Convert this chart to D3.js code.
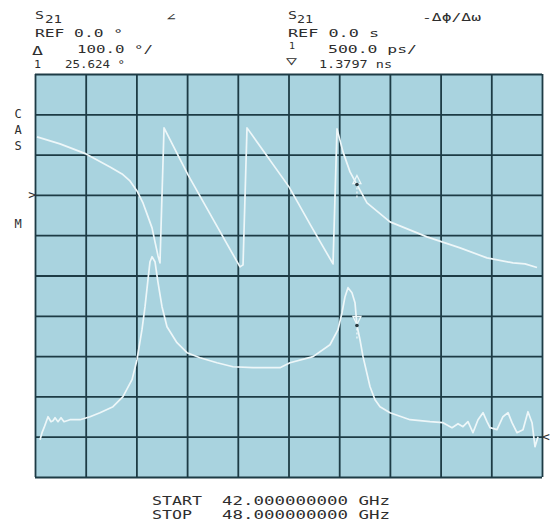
<!DOCTYPE html>
<html>
<head>
<meta charset="utf-8">
<script src="https://cdn.jsdelivr.net/npm/d3@7/dist/d3.min.js"></script>
<style>
  html, body { margin: 0; padding: 0; background: #ffffff; }
  svg { display: block; }
  .lbl { font-family: "DejaVu Sans Mono", "Liberation Mono", monospace; fill: #2e2e2e; }
</style>
</head>
<body>
<svg id="chart" width="550" height="523"></svg>
<script>
// Sweep settings (GHz)
const freqStart = 42.0;
const freqStop = 48.0;

// Channel 1: S21 phase, 100 deg/div, reference 0 deg
const phaseFreq = [42.024, 42.296, 42.604, 42.888, 43.030, 43.124, 43.207, 43.278, 43.325, 43.385,
  43.420, 43.456, 43.479, 43.527, 43.811, 44.118, 44.426, 44.462, 44.509, 45.006,
  45.266, 45.527, 45.574, 45.645, 45.728, 45.810, 45.929, 46.201, 46.639, 47.030,
  47.349, 47.657, 47.799, 47.941];
const phaseDeg = [143.9, 126.6, 101.7, 69.5, 52.1, 34.7, 9.9, -19.9, -47.1, -81.9,
  -116.6, -151.4, -168.7, 166.3, 49.6, -64.5, -178.7, -173.7, 166.3, 19.9,
  -76.9, -171.2, 163.8, 106.7, 57.1, 25.624, -19.9, -67.0, -104.2, -131.5,
  -156.3, -168.7, -171.0, -180.0];

// Channel 2: S21 group delay, 500 ps/div, reference 0 s
const delayFreq = [42.059, 42.083, 42.107, 42.154, 42.189, 42.213, 42.237, 42.272, 42.308, 42.343,
  42.414, 42.533, 42.651, 42.769, 42.923, 43.041, 43.148, 43.207, 43.266, 43.302,
  43.337, 43.361, 43.385, 43.420, 43.456, 43.503, 43.562, 43.680, 43.799, 43.953,
  44.154, 44.343, 44.580, 44.899, 45.018, 45.290, 45.491, 45.586, 45.633, 45.669,
  45.704, 45.751, 45.787, 45.810, 45.846, 45.882, 45.965, 46.024, 46.083, 46.201,
  46.438, 46.675, 46.828, 46.935, 47.006, 47.065, 47.124, 47.183, 47.243, 47.302,
  47.349, 47.385, 47.467, 47.538, 47.598, 47.645, 47.704, 47.775, 47.834, 47.882,
  47.917, 47.953];
const delayNs = [-0.037, 0.05, 0.112, 0.248, 0.186, 0.199, 0.236, 0.186, 0.236, 0.186,
  0.211, 0.211, 0.248, 0.298, 0.372, 0.496, 0.707, 0.955, 1.328, 1.613,
  1.948, 2.171, 2.233, 2.171, 1.911, 1.613, 1.365, 1.166, 1.042, 0.980,
  0.918, 0.868, 0.856, 0.856, 0.918, 0.993, 1.141, 1.328, 1.538, 1.737,
  1.849, 1.787, 1.663, 1.3797, 1.203, 0.993, 0.620, 0.459, 0.372, 0.298,
  0.211, 0.186, 0.174, 0.112, 0.161, 0.124, 0.186, 0.050, 0.211, 0.298,
  0.186, 0.112, 0.087, 0.248, 0.298, 0.174, 0.050, 0.087, 0.310, 0.174,
  -0.124, 0.000];

// Marker 1
const markerFreq = 45.810;
const markerPhase = 25.624;   // deg
const markerDelay = 1.3797;   // ns

// Screen scales: 10 x 10 graticule
const phaseTop = 300, phaseBottom = -700;  // 100 deg/div, ref at 3rd line
const delayTop = 4.5, delayBottom = -0.5;  // 0.5 ns/div, ref at 9th line

const svg = d3.select("#chart");
const L = 35, R = 542, T = 74, B = 477;

const x = d3.scaleLinear().domain([freqStart, freqStop]).range([L, R]);
const yP = d3.scaleLinear().domain([phaseTop, phaseBottom]).range([T, B]);
const yD = d3.scaleLinear().domain([delayTop, delayBottom]).range([T, B]);

// Screen background
svg.append("rect").attr("x", L).attr("y", T).attr("width", R - L).attr("height", B - T)
  .attr("fill", "#a9d3df");

const gridColor = "#1d3b45";
const xTicks = d3.range(0, 11).map(i => freqStart + i * (freqStop - freqStart) / 10);
const yTicks = d3.range(0, 11).map(i => phaseTop + i * (phaseBottom - phaseTop) / 10);

const gx = svg.append("g").attr("transform", `translate(0,${B})`)
  .call(d3.axisBottom(x).tickValues(xTicks).tickSize(-(B - T)).tickFormat(""));
const gy = svg.append("g").attr("transform", `translate(${L},0)`)
  .call(d3.axisLeft(yP).tickValues(yTicks).tickSize(-(R - L)).tickFormat(""));
[gx, gy].forEach(g => {
  g.select(".domain").remove();
  g.selectAll(".tick line").attr("stroke", gridColor).attr("stroke-width", 1.8);
});

// Traces
const traceColor = "#eef7f9";
const phaseData = phaseFreq.map((f, i) => [f, phaseDeg[i]]);
const delayData = delayFreq.map((f, i) => [f, delayNs[i]]);

svg.append("path").datum(phaseData)
  .attr("fill", "none").attr("stroke", traceColor).attr("stroke-width", 1.7)
  .attr("stroke-linejoin", "round")
  .attr("d", d3.line().x(d => x(d[0])).y(d => yP(d[1])));

svg.append("path").datum(delayData)
  .attr("fill", "none").attr("stroke", traceColor).attr("stroke-width", 1.7)
  .attr("stroke-linejoin", "round")
  .attr("d", d3.line().x(d => x(d[0])).y(d => yD(d[1])));

// Marker symbols on the traces
function marker(px, py, up) {
  const g = svg.append("g").attr("transform", `translate(${px},${py})`);
  const tri = up ? "M0,-9 L-4,-1 L4,-1 Z" : "M-4,-9 L4,-9 L0,-1 Z";
  g.append("path").attr("d", tri).attr("fill", "none").attr("stroke", traceColor).attr("stroke-width", 1.3);
  g.append("circle").attr("r", 1.8).attr("fill", "#2a3a40");
  g.append("line").attr("x1", 0).attr("x2", 0).attr("y1", 3).attr("y2", 14)
    .attr("stroke", traceColor).attr("stroke-width", 1.3).attr("stroke-dasharray", "2,2");
}
marker(x(markerFreq), yP(markerPhase), true);
marker(x(markerFreq), yD(markerDelay), false);

// Reference position arrows
svg.append("text").attr("class", "lbl").attr("x", 36).attr("y", yP(0) + 4.5)
  .attr("text-anchor", "end").attr("font-size", 13).text(">");
svg.append("text").attr("class", "lbl").attr("x", 542).attr("y", yD(0) + 4.5)
  .attr("text-anchor", "start").attr("font-size", 13).text("<");

// Left-side annotation letters
[["C", 118], ["A", 134], ["S", 150], ["M", 228]].forEach(([t, yy]) => {
  svg.append("text").attr("class", "lbl").attr("x", 18).attr("y", yy)
    .attr("text-anchor", "middle").attr("font-size", 12).text(t);
});

// Header and footer text: [string, x, baseline, width, size]
function txt(s, x0, yb, w, size) {
  const t = svg.append("text").attr("class", "lbl").attr("x", x0).attr("y", yb)
    .attr("font-size", size).text(s);
  if (w) t.attr("textLength", w).attr("lengthAdjust", "spacingAndGlyphs");
  return t;
}
const headerLeft = [
  ["S", 35, 19, 9, 10], ["21", 45, 23, 17, 10], ["\u2220", 166, 21, 10, 11],
  ["REF 0.0 \u00b0", 35, 37, 88, 11], ["\u0394", 32, 55, 11, 12],
  ["100.0 \u00b0/", 77, 53, 76, 11], ["1", 34, 68, 7, 10],
  ["25.624 \u00b0", 65, 68, 60, 11]
];
const headerRight = [
  ["S", 288, 19, 9, 10], ["21", 297, 23, 16, 10],
  ["-\u0394\u03d5/\u0394\u03c9", 422, 21, 59, 11],
  ["REF 0.0 s", 288, 37, 91, 11], ["1", 289, 49, 6, 9],
  ["\u25bd", 286, 65, 11, 12],
  ["500.0 ps/", 328, 53, 89, 11], ["1.3797 ns", 319, 68, 73, 11]
];
const footer = [
  ["START", 152, 505, 50, 13], ["42.000000000 GHz", 222, 505, 168, 13],
  ["STOP", 152, 519, 40, 13], ["48.000000000 GHz", 222, 519, 168, 13]
];
headerLeft.concat(headerRight, footer).forEach(d => txt(...d));
</script>
</body>
</html>
